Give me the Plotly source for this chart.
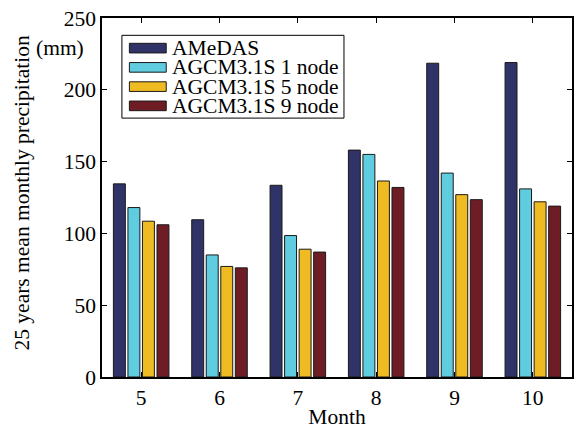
import plotly.graph_objects as go

months = ["5", "6", "7", "8", "9", "10"]
month_pos = [5, 6, 7, 8, 9, 10]
series_names = ["AMeDAS", "AGCM3.1S 1 node", "AGCM3.1S 5 node", "AGCM3.1S 9 node"]
amedas = [134.5, 109.5, 133.5, 158, 218.5, 219]
node1 = [118, 85, 98.5, 155, 142, 131]
node5 = [108.5, 77, 89, 136.5, 127, 122]
node9 = [106, 76, 87, 132, 123.5, 119]
colors = ["#2F3368", "#60CCE0", "#EFBB22", "#6E1D25"]
y_ticks = [0, 50, 100, 150, 200, 250]

FONT = "'Liberation Serif', 'Times New Roman', Times, serif"
FS = 21.5

fig = go.Figure()
for name, vals, col in zip(series_names, [amedas, node1, node5, node9], colors):
    fig.add_trace(go.Bar(
        x=month_pos, y=vals, name=name,
        marker=dict(color=col, line=dict(color="#1a1a1a", width=1)),
        showlegend=False,
    ))

# plot-area pixel geometry (used for the hand-built legend)
L, R, T, B = 102, 574, 13, 386
W, H = R - L, B - T
def px(x):
    return (x - L) / W
def py(y):
    return (B - y) / H

shapes = [dict(type="rect", xref="paper", yref="paper",
               x0=px(122), x1=px(345), y0=py(117), y1=py(31),
               line=dict(color="black", width=1), fillcolor="white", layer="above")]
annotations = []
for i, (name, col) in enumerate(zip(series_names, colors)):
    cy = 44.3 + 20 * i
    shapes.append(dict(type="rect", xref="paper", yref="paper",
                       x0=px(129.5), x1=px(166.5), y0=py(cy + 5), y1=py(cy - 5),
                       line=dict(color="#1a1a1a", width=1), fillcolor=col, layer="above"))
    annotations.append(dict(xref="paper", yref="paper", x=px(170), y=py(cy),
                            text=name, showarrow=False, xanchor="left", yanchor="middle",
                            font=dict(family=FONT, size=FS, color="black")))

annotations.append(dict(xref="paper", yref="paper", x=px(22), y=py(195),
                        text="25 years mean monthly precipitation", textangle=-90,
                        showarrow=False, xanchor="center", yanchor="middle",
                        font=dict(family=FONT, size=FS, color="black")))
annotations.append(dict(xref="paper", yref="paper", x=px(60), y=py(44),
                        text="(mm)", showarrow=False, xanchor="center", yanchor="middle",
                        font=dict(family=FONT, size=FS, color="black")))

fig.update_layout(
    width=581, height=432,
    margin=dict(l=L, r=581 - R, t=T, b=432 - B),
    paper_bgcolor="white", plot_bgcolor="white",
    barmode="group", bargap=0.258, bargroupgap=0.178,
    font=dict(family=FONT, size=FS, color="black"),
    shapes=shapes, annotations=annotations,
    xaxis=dict(range=[4.5, 10.5], tickvals=month_pos, ticktext=months,
               showline=True, linecolor="black", linewidth=1.5, mirror="ticks",
               ticks="inside", ticklen=5, tickcolor="black", showgrid=False, zeroline=False,
               title=dict(text="Month", standoff=0, font=dict(family=FONT, size=FS))),
    yaxis=dict(range=[0, 250], tickvals=y_ticks,
               showline=True, linecolor="black", linewidth=1.5, mirror="ticks",
               ticks="inside", ticklen=5, tickcolor="black", showgrid=False, zeroline=False),
)

fig.write_html("out.html")
